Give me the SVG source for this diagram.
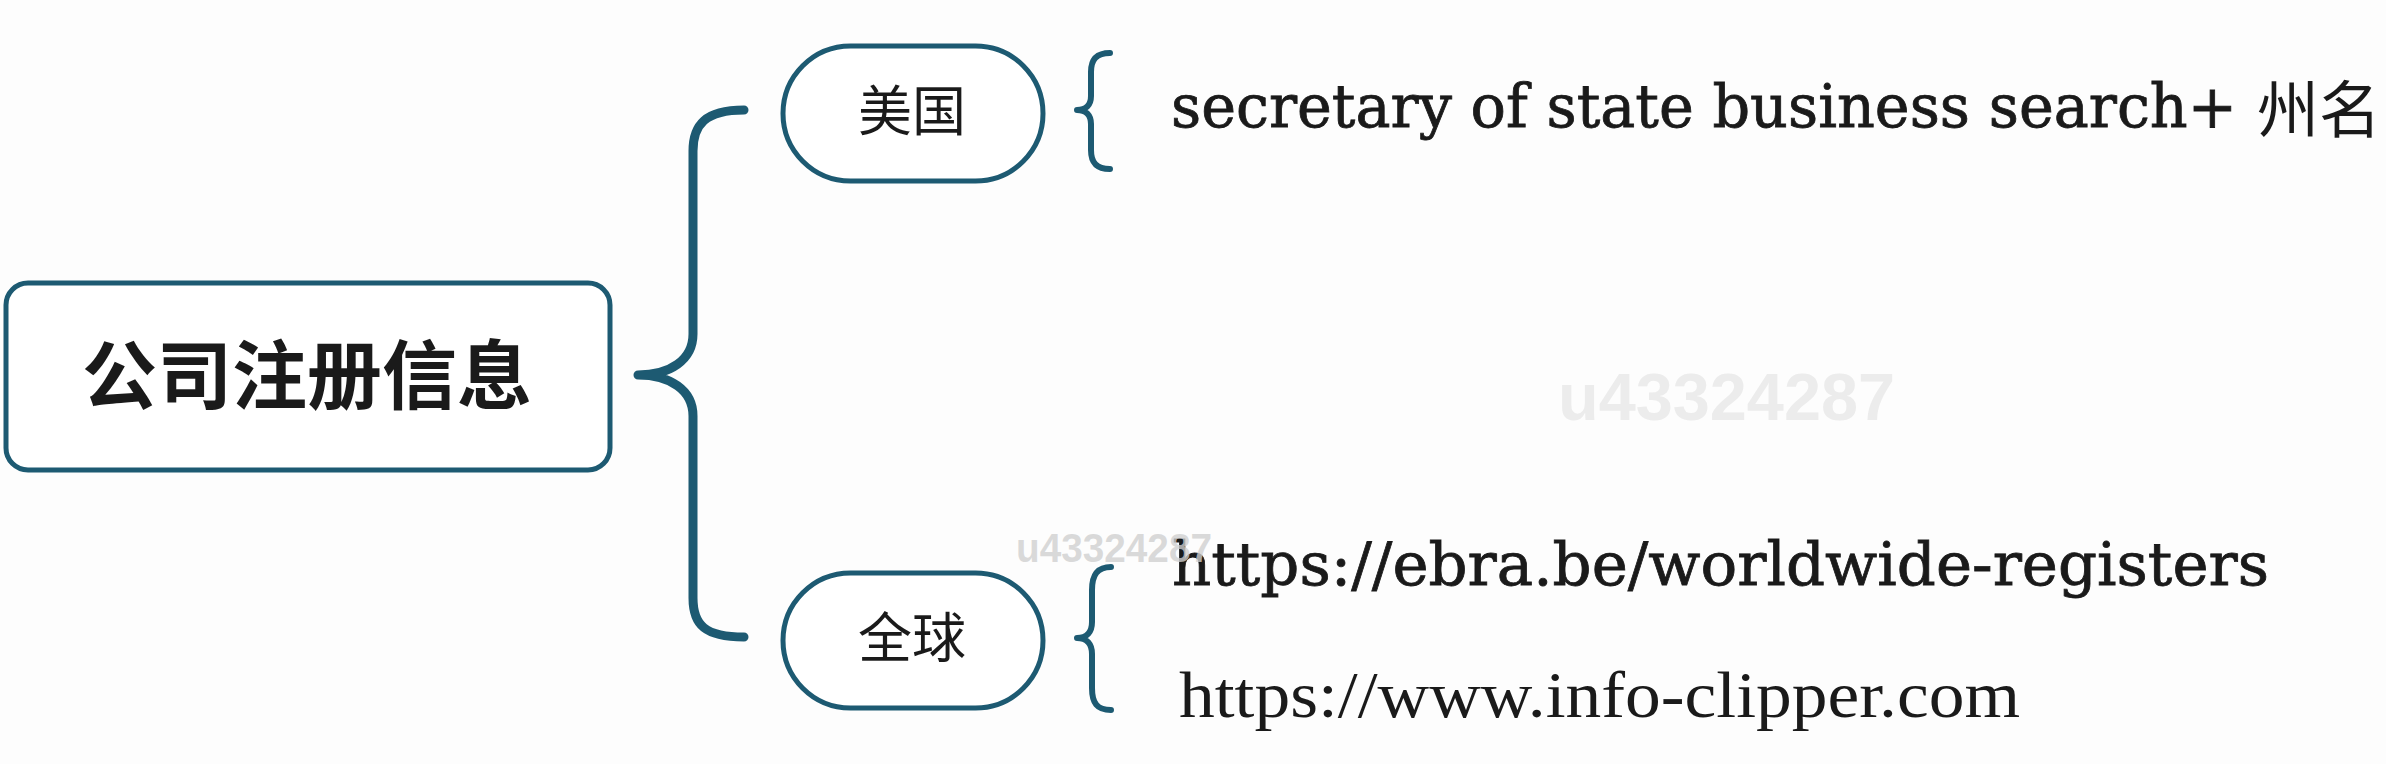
<svg xmlns="http://www.w3.org/2000/svg" width="2386" height="764" viewBox="0 0 2386 764">
<style>
.box{fill:#ffffff;stroke:#1d5a72;stroke-width:5}
.br{fill:none;stroke:#1d5a72;stroke-linecap:round;stroke-linejoin:round}
.cjk{font-family:"Noto Sans CJK SC","Noto Sans",sans-serif;fill:#1a1a1a}
.slab{font-family:"DejaVu Serif","Liberation Serif",serif;fill:#1a1a1a;stroke:#1a1a1a;stroke-width:0.8}
.wm{font-family:"Liberation Sans",Arial,sans-serif;font-weight:bold}
</style>
<rect width="2386" height="764" fill="#fdfdfd"/>
<g id="connectors">
  <path class="br" stroke-width="9" d="M744,110 C705,110 693,125 693,151 L693,334 C693,360 670,375 638,375 C670,375 693,390 693,416 L693,598 C693,625 705,637 744,637"/>
  <path class="br" stroke-width="6" d="M1110,53 C1096,53 1091,60 1091,72 L1091,96 C1091,105 1086,110 1077,110 C1086,110 1091,115 1091,124 L1091,150 C1091,162 1096,169 1110,169"/>
  <path class="br" stroke-width="6" d="M1111,567 C1097,567 1092,575 1092,590 L1092,622 C1092,632 1087,638 1077,638 C1087,638 1092,644 1092,654 L1092,688 C1092,703 1097,710 1111,710"/>
</g>
<g id="node-root">
  <rect class="box" x="6" y="283" width="604" height="187" rx="22"/>
  <text class="cjk" x="307" y="403" font-size="75" font-weight="700" text-anchor="middle">公司注册信息</text>
</g>
<g id="node-usa">
  <rect class="box" x="783" y="46" width="260" height="135" rx="67.5"/>
  <text class="cjk" x="912" y="131" font-size="54" text-anchor="middle">美国</text>
</g>
<g id="node-global">
  <rect class="box" x="783" y="573" width="260" height="135" rx="67.5"/>
  <text class="cjk" x="912" y="658" font-size="54" text-anchor="middle">全球</text>
</g>
<g id="text-usa">
  <text class="slab" x="1171" y="127" font-size="59" textLength="1066" lengthAdjust="spacingAndGlyphs">secretary of state business search+</text>
  <text class="cjk" x="2257" y="133" font-size="62">州名</text>
</g>
<text class="wm" x="1558" y="420" font-size="67" fill="#ececec" textLength="337" lengthAdjust="spacingAndGlyphs">u43324287</text>
<g id="text-global">
  <text class="slab" x="1172" y="585" font-size="59" textLength="1097" lengthAdjust="spacingAndGlyphs">https://ebra.be/worldwide-registers</text>
  <text x="1179" y="717" font-family="Liberation Serif,serif" font-size="65" fill="#1a1a1a" textLength="841" lengthAdjust="spacingAndGlyphs">https://www.info-clipper.com</text>
</g>
<text class="wm" x="1016" y="562" font-size="40" font-weight="normal" fill="#d0d0d0" fill-opacity="0.8" textLength="196" lengthAdjust="spacingAndGlyphs">u43324287</text>
</svg>
